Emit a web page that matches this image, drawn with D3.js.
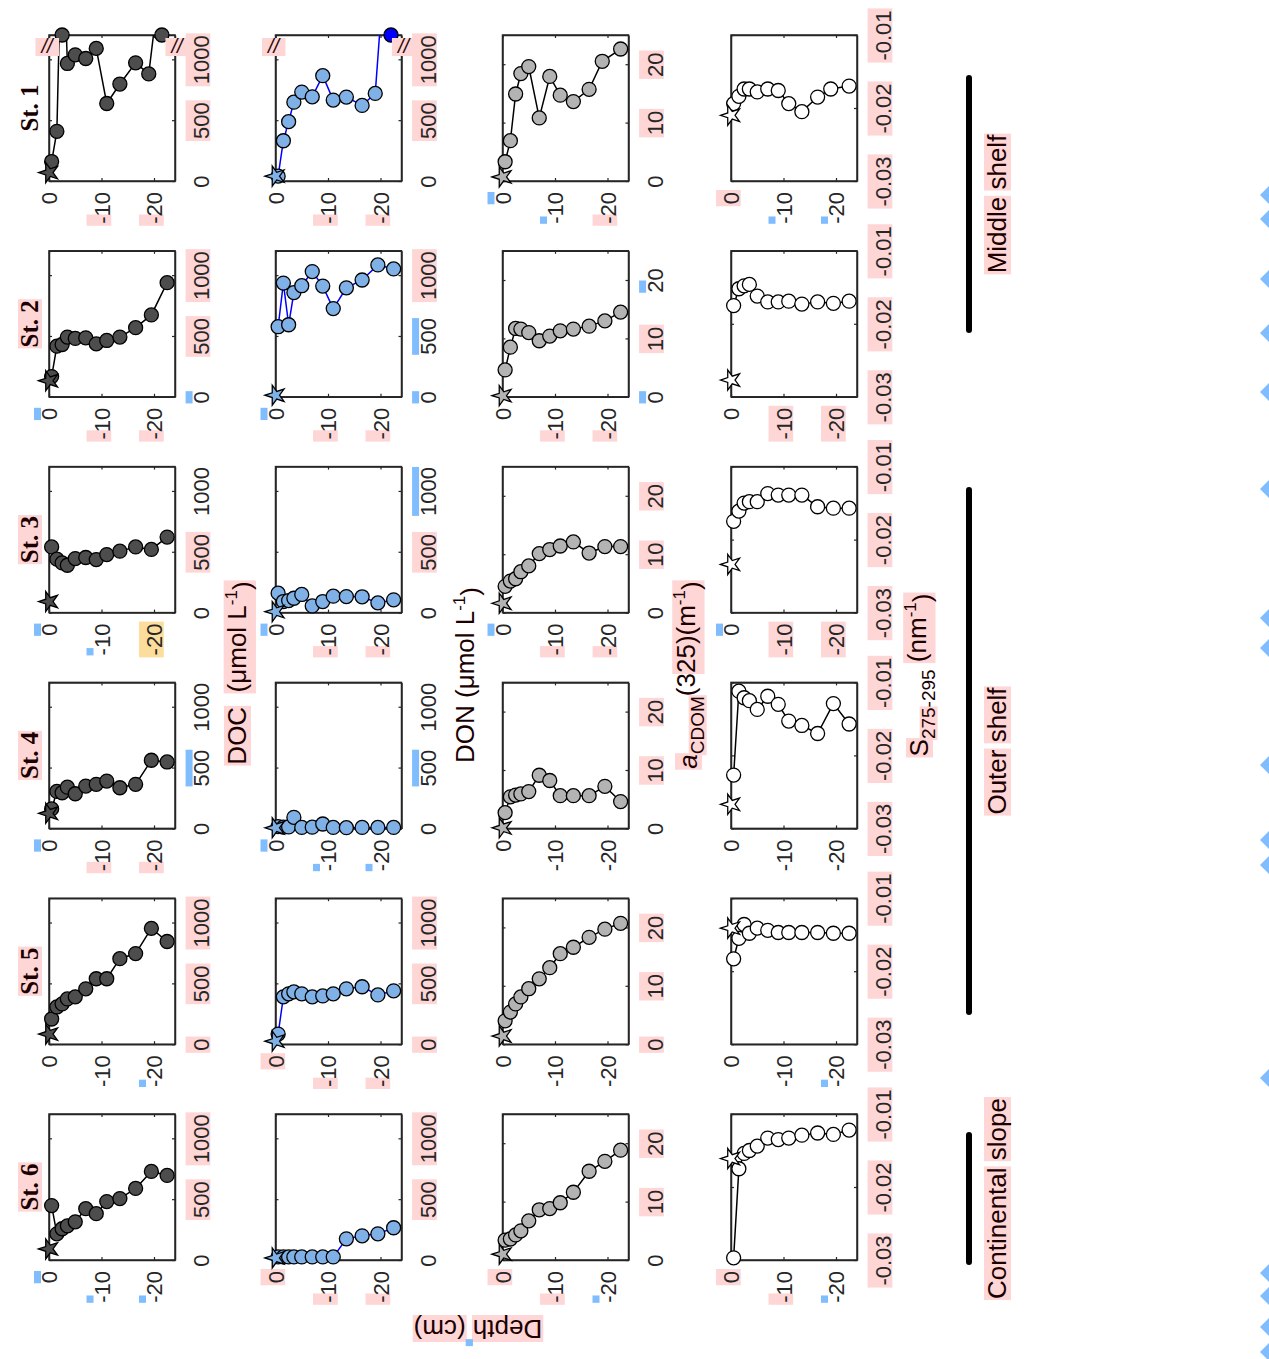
<!DOCTYPE html>
<html>
<head>
<meta charset="utf-8">
<script src="https://cdn.jsdelivr.net/npm/d3@7"></script>
<style>
  body { margin: 0; background: #fff; }
  svg { display: block; }
</style>
</head>
<body>
<svg id="fig" width="1269" height="1359"></svg>
<script>
// Pore-water profiles (depth in cm, negative downward) for six stations.
const stations = ["St. 1", "St. 2", "St. 3", "St. 4", "St. 5", "St. 6"];
const regions = ["Middle shelf", "Outer shelf", "Continental slope"];

const depthTicks = [0, -10, -20];
const docTicks = [0, 500, 1000];
const donTicks = [0, 500, 1000];
const cdomTicks = [0, 10, 20];
const slopeTicks = [-0.03, -0.02, -0.01];

// sampling depths of the sediment slices
const sampleDepths = [-0.5, -1.5, -2.5, -3.5, -5, -7, -9, -11, -13.5, -16.5, -19.5, -22.5];
const st1Depths    = [-0.5, -1.5, -2.5, -3.5, -5, -7, -9, -11, -13.5, -16.5, -19, -22.5];
const st1DocDepths = [-0.5, -1.5, -2.5, -3.5, -5, -7, -9, -11, -13.5, -16.5, -19, -21.5];
const st1DonDepths = [-0.5, -1.5, -2.5, -3.5, -5, -7, -9, -11, -13.5, -16.5, -19, -22];

// DOC (umol/L), one row per station
const docValues = [
  [160, 408, 2250, 966, 1037, 1007, 1090, 637, 797, 971, 880, 1770],
  [166, 416, 430, 491, 480, 485, 435, 463, 491, 568, 673, 938],
  [540, 439, 408, 389, 444, 453, 436, 477, 505, 540, 519, 621],
  [160, 304, 293, 339, 285, 348, 362, 389, 334, 362, 560, 546],
  [207, 306, 331, 372, 389, 455, 538, 538, 703, 745, 952, 844],
  [447, 215, 257, 281, 314, 422, 381, 480, 505, 588, 728, 695]
];
// DON (umol/L)
const donValues = [
  [40, 331, 488, 648, 731, 692, 866, 665, 690, 621, 720, 2490],
  [576, 935, 592, 857, 913, 1029, 910, 725, 896, 960, 1084, 1051],
  [160, 91, 99, 118, 149, 55, 91, 135, 132, 130, 80, 105],
  [15, 10, 12, 91, 8, 10, 36, 8, 6, 8, 8, 8],
  [83, 389, 414, 430, 414, 389, 397, 414, 455, 472, 405, 439],
  [25, 25, 25, 25, 25, 25, 25, 25, 174, 199, 215, 265]
];
// a_CDOM(325) (1/m)
const cdomValues = [
  [3.3, 6.9, 14.9, 18.4, 19.6, 10.8, 17.9, 14.7, 13.6, 15.7, 20.5, 22.6],
  [4.6, 8.5, 11.7, 11.6, 11.0, 9.6, 10.4, 11.3, 11.6, 12.1, 13.0, 14.5],
  [4.5, 5.4, 5.8, 7.0, 8.0, 10.1, 10.8, 11.4, 12.1, 10.2, 11.3, 11.3],
  [2.7, 5.4, 5.7, 5.9, 6.3, 9.1, 8.2, 5.6, 5.6, 5.6, 7.2, 4.6],
  [4.0, 5.5, 6.9, 8.1, 9.5, 11.2, 13.1, 15.5, 16.6, 18.3, 19.7, 20.7],
  [3.4, 3.6, 4.3, 5.0, 6.7, 8.6, 8.8, 9.8, 11.6, 15.2, 16.9, 18.8]
];
// spectral slope S275-295 (1/nm)
const slopeValues = [
  [-0.0194, -0.0184, -0.0174, -0.0174, -0.0178, -0.0174, -0.0176, -0.0194, -0.0205, -0.0185, -0.0174, -0.0170],
  [-0.0175, -0.0152, -0.0148, -0.0146, -0.0162, -0.0170, -0.0170, -0.0169, -0.0173, -0.0170, -0.0172, -0.0169],
  [-0.0175, -0.0161, -0.0150, -0.0148, -0.0148, -0.0137, -0.0139, -0.0139, -0.0139, -0.0155, -0.0157, -0.0157],
  [-0.0227, -0.0112, -0.0121, -0.0125, -0.0137, -0.0119, -0.0130, -0.0153, -0.0159, -0.0170, -0.0129, -0.0157],
  [-0.0183, -0.0155, -0.0136, -0.0148, -0.0141, -0.0144, -0.0147, -0.0147, -0.0147, -0.0147, -0.0148, -0.0148],
  [-0.0297, -0.0175, -0.0154, -0.0150, -0.0144, -0.0133, -0.0135, -0.0133, -0.0129, -0.0126, -0.0128, -0.0122]
];

// overlying bottom water (star, depth 0)
const bottomDOC   = [69, 132, 91, 124, 83, 91];
const bottomDON   = [40, 13, 8, 5, 25, 17];
const bottomCDOM  = [0.7, 0.2, 1.6, 0.1, 1.4, 1.0];
const bottomSlope = [-0.0210, -0.0277, -0.0234, -0.0267, -0.0141, -0.0161];

// label shading: P = pink box, p = pink over the minus sign, b = blue tab, o = amber box
const valueLabelShade = [
  ["-PP", "-PP", "-PP", "PPP"],
  ["bPP", "bbP", "bPb", "PPP"],
  ["-P-", "-Pb", "-PP", "PPP"],
  ["-b-", "-b-", "-PP", "PPP"],
  ["PPP", "PPP", "PPP", "PPP"],
  ["-PP", "-PP", "-PP", "PPP"]
];
const depthLabelShade = [
  ["-pp", "-pp", "bbp", "Pbb"],
  ["bpp", "bpp", "-pp", "-PP"],
  ["bbo", "bpp", "bpp", "bPP"],
  ["bpp", "bbb", "---", "---"],
  ["--b", "Ppp", "---", "--b"],
  ["bbb", "Ppp", "Ppb", "Ppb"]
];
const edgeMarkY = [195, 219, 279, 333, 392, 489, 618, 648, 765, 840, 865, 1078, 1273, 1296, 1327, 1352];

const variables = [
  { values: docValues,   bottom: bottomDOC,   domain: [0, 1200],      ticks: docTicks,   fmt: d => String(d),
    fill: "#4d4d4d", line: "#000", offFill: "#4d4d4d", breaks: true,
    depths: r => r === 0 ? st1DocDepths : sampleDepths },
  { values: donValues,   bottom: bottomDON,   domain: [0, 1200],      ticks: donTicks,   fmt: d => String(d),
    fill: "#7fb0e6", line: "#0000ff", offFill: "#0000ff", breaks: true,
    depths: r => r === 0 ? st1DonDepths : sampleDepths },
  { values: cdomValues,  bottom: bottomCDOM,  domain: [0, 25],        ticks: cdomTicks,  fmt: d => String(d),
    fill: "#b3b3b3", line: "#000", offFill: "#b3b3b3", breaks: false,
    depths: r => r === 0 ? st1Depths : sampleDepths },
  { values: slopeValues, bottom: bottomSlope, domain: [-0.03, -0.01], ticks: slopeTicks, fmt: d => d.toFixed(2),
    fill: "#ffffff", line: "#000", offFill: "#ffffff", breaks: false,
    depths: r => r === 0 ? st1Depths : sampleDepths }
];

const W = 126, H = 146;
const colLeft = [49, 275.5, 502.5, 731];
const rowTop = d3.scaleLinear().domain([0, 5]).range([35, 1114]);
const axisColor = "#262626";
const inkColor = "#1a0000";
const sansFont = "'Liberation Sans', Arial, Helvetica, sans-serif";
const tickSize = 22;
const PINK = "#ffd6d6", BLUE = "#80bdff", AMBER = "#fddd9c";

const svg = d3.select("#fig");
const defs = svg.append("defs");
const star = d3.symbol().type(d3.symbolStar).size(125);

// union of glyph cells for characters [from, to) in the text's own coordinates
function charBox(node, from, to) {
  const n = node.getNumberOfChars();
  let x0 = Infinity, x1 = -Infinity, y0 = Infinity, y1 = -Infinity;
  for (let i = from; i < Math.min(to, n); i++) {
    const e = node.getExtentOfChar(i);
    x0 = Math.min(x0, e.x); x1 = Math.max(x1, e.x + e.width);
    y0 = Math.min(y0, e.y); y1 = Math.max(y1, e.y + e.height);
  }
  return { x0, x1, y0, y1 };
}
function shadeRect(node, r, color) {
  const rect = document.createElementNS("http://www.w3.org/2000/svg", "rect");
  node.parentNode.insertBefore(rect, node);
  d3.select(rect).attr("x", r.x).attr("y", r.y).attr("width", r.w).attr("height", r.h)
    .attr("fill", color).attr("transform", node.getAttribute("transform"));
}
// kind: "box" around glyphs, "cell" the full glyph cells, "tab" a thin strip above the glyph tops
function shade(node, from, to, kind, color, fs) {
  const b = charBox(node, from, to);
  const base = b.y1 - 0.212 * fs;
  const capTop = base - 0.716 * fs;
  if (kind === "box") shadeRect(node, { x: b.x0 - 2, y: capTop - 8, w: b.x1 - b.x0 + 4, h: base + 1 - (capTop - 8) }, color);
  else if (kind === "cell") shadeRect(node, { x: b.x0 - 1, y: b.y0 + 2, w: b.x1 - b.x0 + 2, h: b.y1 - b.y0 - 3 }, color);
  else shadeRect(node, { x: b.x0, y: capTop - 8, w: b.x1 - b.x0, h: 7 }, color);
}
function shadeLabel(node, code, fs) {
  const n = node.getNumberOfChars();
  if (code === "P") shade(node, 0, n, "box", PINK, fs);
  else if (code === "o") shade(node, 0, n, "box", AMBER, fs);
  else if (code === "p") shade(node, 0, 1, "box", PINK, fs);
  else if (code === "b") shade(node, 0, n > 2 && node.textContent[0] !== "-" ? n : 1, "tab", BLUE, fs);
}

function styleAxis(sel) {
  sel.attr("font-family", sansFont).attr("font-size", tickSize);
  sel.select(".domain").attr("stroke", axisColor).attr("stroke-width", 1.5);
  sel.selectAll(".tick line").attr("stroke", axisColor).attr("stroke-width", 1.2);
  sel.selectAll(".tick text").attr("fill", axisColor);
}

variables.forEach((v, c) => {
  stations.forEach((st, r) => {
    const x0 = colLeft[c], y0 = rowTop(r);
    const xs = d3.scaleLinear().domain([0, -24]).range([x0, x0 + W]);
    const ys = d3.scaleLinear().domain(v.domain).range([y0 + H, y0]);
    const g = svg.append("g");
    const clipId = `clip-${c}-${r}`;
    defs.append("clipPath").attr("id", clipId)
      .append("rect").attr("x", x0).attr("y", y0).attr("width", W).attr("height", H);

    // depth axis below the box, rotated labels
    g.append("g").attr("transform", `translate(0,${y0 + H})`)
      .call(d3.axisBottom(xs).tickValues(depthTicks).tickSize(-3).tickSizeOuter(0).tickFormat(d => String(d)))
      .call(styleAxis)
      .call(a => a.selectAll(".tick text")
        .attr("x", -11).attr("y", 0).attr("dy", "0.36em")
        .attr("text-anchor", "end").attr("transform", "rotate(-90)")
        .each(function (d, i) { shadeLabel(this, depthLabelShade[r][c][i], tickSize); }));
    g.append("g").attr("transform", `translate(0,${y0})`)
      .call(d3.axisTop(xs).tickValues(depthTicks).tickSize(-3).tickSizeOuter(0).tickFormat(""))
      .call(styleAxis);

    // value axis on the right, rotated labels
    g.append("g").attr("transform", `translate(${x0 + W},0)`)
      .call(d3.axisRight(ys).tickValues(v.ticks).tickSize(-3).tickSizeOuter(0).tickFormat(v.fmt))
      .call(styleAxis)
      .call(a => a.selectAll(".tick text")
        .attr("x", 0).attr("y", 34).attr("dy", 0)
        .attr("text-anchor", "middle").attr("transform", "rotate(-90)")
        .each(function (d, i) { shadeLabel(this, valueLabelShade[r][c][i], tickSize); }));
    g.append("g").attr("transform", `translate(${x0},0)`)
      .call(d3.axisLeft(ys).tickValues(v.ticks).tickSize(-3).tickSizeOuter(0).tickFormat(""))
      .call(styleAxis);

    g.append("rect").attr("x", x0).attr("y", y0).attr("width", W).attr("height", H)
      .attr("fill", "none").attr("stroke", axisColor).attr("stroke-width", 1.5);

    const depths = v.depths(r);
    const pts = v.values[r].map((val, i) => ({ depth: depths[i], value: val }));
    const top = v.domain[1];

    g.append("path").datum(pts)
      .attr("clip-path", `url(#${clipId})`)
      .attr("fill", "none").attr("stroke", v.line).attr("stroke-width", 1.5)
      .attr("d", d3.line().x(d => xs(d.depth)).y(d => ys(d.value)));

    g.selectAll("circle.pt").data(pts).join("circle")
      .attr("class", "pt")
      .attr("cx", d => xs(d.depth))
      .attr("cy", d => ys(Math.min(d.value, top)))
      .attr("r", 7)
      .attr("fill", d => d.value > top ? v.offFill : v.fill)
      .attr("stroke", "#000").attr("stroke-width", 1.3);

    g.append("path").attr("d", star)
      .attr("transform", `translate(${xs(0)},${ys(v.bottom[r])}) rotate(-90)`)
      .attr("fill", v.fill).attr("stroke", "#000").attr("stroke-width", 1.3);

    // axis-break marks where values run off scale
    if (v.breaks && pts.some(d => d.value > top)) {
      [x0 - 2, x0 + W + 2].forEach(bx => {
        const t = g.append("text").attr("x", bx).attr("y", y0 + 18)
          .attr("text-anchor", "middle")
          .attr("font-family", sansFont).attr("font-size", 20).attr("font-style", "italic")
          .attr("fill", "#2a0808").text("//");
        const bb = t.node().getBBox();
        g.insert("rect", () => t.node()).attr("x", bb.x - 4).attr("y", bb.y + 3)
          .attr("width", bb.width + 8).attr("height", bb.height - 4).attr("fill", PINK);
      });
    }

    if (c === 0) {
      const cy = y0 + H / 2;
      const t = svg.append("text").attr("transform", `translate(38,${cy}) rotate(-90)`)
        .attr("text-anchor", "middle")
        .attr("font-family", "'Liberation Serif', 'Times New Roman', serif")
        .attr("font-weight", "bold").attr("font-size", 25)
        .attr("fill", inkColor).text(st);
      if (r > 0) shade(t.node(), 0, st.length, "cell", PINK, 25);
    }
  });
});

// column titles
function title(x, y, build) {
  const t = svg.append("text").attr("transform", `translate(${x},${y}) rotate(-90)`)
    .attr("text-anchor", "middle").attr("font-family", sansFont).attr("font-size", 26).attr("fill", inkColor);
  build(t);
  return t.node();
}
const sup = (t, s) => { t.append("tspan").attr("dy", "-0.55em").attr("font-size", 17).text(s); t.append("tspan").attr("dy", "0.55em").text(")"); };

const docTitle = title(246, 673, t => { t.append("tspan").text("DOC\u00a0\u00a0(\u03bcmol L"); sup(t, "-1"); });
shade(docTitle, 0, 3, "cell", PINK, 26);
shade(docTitle, 5, 15, "cell", PINK, 26);
title(474, 675, t => { t.append("tspan").text("DON (\u03bcmol L"); sup(t, "-1"); });
const cdomTitle = title(697, 675, t => {
  t.append("tspan").attr("font-style", "italic").text("a");
  t.append("tspan").attr("dy", "0.35em").attr("font-size", 19).text("CDOM");
  t.append("tspan").attr("dy", "-0.35em").text("(325)(m");
  sup(t, "-1");
});
shade(cdomTitle, 0, 1, "cell", PINK, 26);
shade(cdomTitle, 1, 5, "cell", PINK, 26);
shade(cdomTitle, 7, 17, "cell", PINK, 26);
const slopeTitle = title(928, 675, t => {
  t.append("tspan").text("S");
  t.append("tspan").attr("dy", "0.35em").attr("font-size", 19).text("275-295");
  t.append("tspan").attr("dy", "-0.35em").text("\u00a0(nm");
  sup(t, "-1");
});
shade(slopeTitle, 0, 1, "cell", PINK, 26);
shade(slopeTitle, 1, 4, "cell", PINK, 26);
shade(slopeTitle, 9, 15, "cell", PINK, 26);

// depth title, upside down
const depthTitle = svg.append("text").attr("transform", "translate(478,1320) rotate(180)")
  .attr("text-anchor", "middle").attr("font-family", sansFont).attr("font-size", 26)
  .attr("fill", inkColor).text("Depth (cm)").node();
shade(depthTitle, 0, 5, "cell", PINK, 26);
shade(depthTitle, 6, 10, "cell", PINK, 26);
shade(depthTitle, 5, 6, "tab", BLUE, 26);

// station groups
const groupSpan = [[78, 330], [490, 1012], [1135, 1262]];
regions.forEach((name, i) => {
  const [a, b] = groupSpan[i];
  svg.append("line").attr("x1", 969).attr("x2", 969).attr("y1", a).attr("y2", b)
    .attr("stroke", "#000").attr("stroke-width", 6).attr("stroke-linecap", "round");
  const t = svg.append("text").attr("transform", `translate(1006,${(a + b) / 2}) rotate(-90)`)
    .attr("text-anchor", "middle").attr("font-family", sansFont).attr("font-size", 26)
    .attr("fill", inkColor).text(name).node();
  const sp = name.indexOf(" ");
  shade(t, 0, sp, "cell", PINK, 26);
  shade(t, sp + 1, name.length, "cell", PINK, 26);
});

// marks along the right edge
svg.selectAll("path.edge").data(edgeMarkY).join("path")
  .attr("class", "edge")
  .attr("d", d => `M1269,${d - 9} L1260,${d} L1269,${d + 9} Z`)
  .attr("fill", BLUE);
</script>
</body>
</html>
